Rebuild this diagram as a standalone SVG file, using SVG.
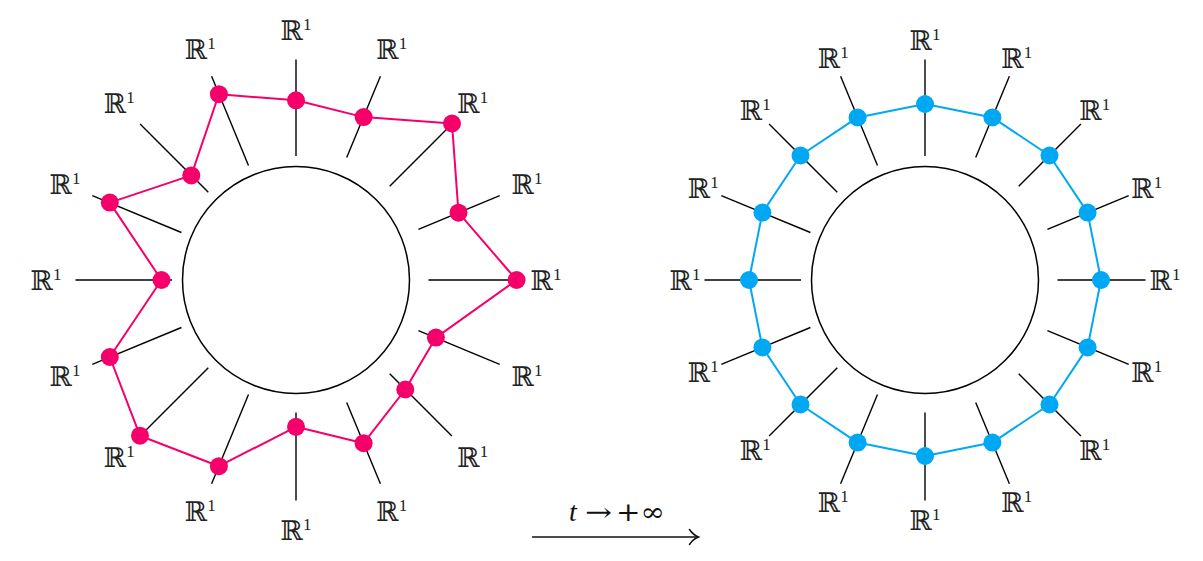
<svg xmlns="http://www.w3.org/2000/svg" width="1203" height="561" viewBox="0 0 1203 561">
<style>
.bg{fill:#ffffff}
.ring{fill:none;stroke:#000;stroke-width:1.5}
.spk{stroke:#000;stroke-width:1.4;stroke-linecap:butt}
.pk{fill:none;stroke:#F5006A;stroke-width:2;stroke-linejoin:round}
.bl{fill:none;stroke:#00A8F3;stroke-width:2;stroke-linejoin:round}
.pd{fill:#F5006A}
.bd{fill:#00A8F3}
.lbl{font-family:"DejaVu Serif",serif;font-size:27px;fill:#222;text-anchor:middle}
.sup{font-family:"Liberation Serif",serif;font-size:17px}
.ar{font-family:"DejaVu Serif",serif;font-size:26px;fill:#111}
.tt{font-family:"Liberation Serif",serif;font-style:italic;font-size:28px;fill:#111}
</style>
<rect class="bg" x="0" y="0" width="1203" height="561"/>

<g id="left-diagram">
  <circle id="left-circle" class="ring" cx="296" cy="280" r="113.5"/>
  <g id="left-spokes">
    <line class="spk" x1="428.5" y1="280" x2="516.5" y2="280"/>
    <line class="spk" x1="418.4" y1="229.3" x2="499.7" y2="195.6"/>
    <line class="spk" x1="389.7" y1="186.3" x2="451.9" y2="124.1"/>
    <line class="spk" x1="346.7" y1="157.6" x2="380.4" y2="76.3"/>
    <line class="spk" x1="296" y1="156" x2="296" y2="59.5"/>
    <line class="spk" x1="248.5" y1="165.4" x2="211.6" y2="76.3"/>
    <line class="spk" x1="208.3" y1="192.3" x2="140.1" y2="124.1"/>
    <line class="spk" x1="181.4" y1="232.5" x2="92.3" y2="195.6"/>
    <line class="spk" x1="172" y1="280" x2="75.5" y2="280"/>
    <line class="spk" x1="181.4" y1="327.5" x2="92.3" y2="364.4"/>
    <line class="spk" x1="208.3" y1="367.7" x2="140.1" y2="435.9"/>
    <line class="spk" x1="248.5" y1="394.6" x2="211.6" y2="483.7"/>
    <line class="spk" x1="296" y1="412.5" x2="296" y2="500.5"/>
    <line class="spk" x1="346.7" y1="402.4" x2="380.4" y2="483.7"/>
    <line class="spk" x1="389.7" y1="373.7" x2="451.9" y2="435.9"/>
    <line class="spk" x1="418.4" y1="330.7" x2="499.7" y2="364.4"/>
  </g>
</g>

<g id="right-diagram">
  <circle id="right-circle" class="ring" cx="925" cy="280" r="113.5"/>
  <g id="right-spokes">
    <line class="spk" x1="1057.5" y1="280" x2="1145.5" y2="280"/>
    <line class="spk" x1="1047.4" y1="229.3" x2="1128.7" y2="195.6"/>
    <line class="spk" x1="1018.7" y1="186.3" x2="1080.9" y2="124.1"/>
    <line class="spk" x1="975.7" y1="157.6" x2="1009.4" y2="76.3"/>
    <line class="spk" x1="925" y1="156" x2="925" y2="59.5"/>
    <line class="spk" x1="877.5" y1="165.4" x2="840.6" y2="76.3"/>
    <line class="spk" x1="837.3" y1="192.3" x2="769.1" y2="124.1"/>
    <line class="spk" x1="810.4" y1="232.5" x2="721.3" y2="195.6"/>
    <line class="spk" x1="801" y1="280" x2="704.5" y2="280"/>
    <line class="spk" x1="810.4" y1="327.5" x2="721.3" y2="364.4"/>
    <line class="spk" x1="837.3" y1="367.7" x2="769.1" y2="435.9"/>
    <line class="spk" x1="877.5" y1="394.6" x2="840.6" y2="483.7"/>
    <line class="spk" x1="925" y1="412.5" x2="925" y2="500.5"/>
    <line class="spk" x1="975.7" y1="402.4" x2="1009.4" y2="483.7"/>
    <line class="spk" x1="1018.7" y1="373.7" x2="1080.9" y2="435.9"/>
    <line class="spk" x1="1047.4" y1="330.7" x2="1128.7" y2="364.4"/>
  </g>
</g>

<g id="connectors">
  <polygon id="left-path" class="pk" points="516.6,280 458.5,212.7 452,123.5 363.6,117.1 296,100.3 218.9,94.2 191.3,175.4 109.8,202.6 161.5,280 109.8,357 140,435.7 218.9,466.2 296,426.8 363.6,443.2 405.3,389.5 435.9,337.6"/>
  <polygon id="right-path" class="bl" points="1101,280 1087.6,212.6 1049.5,155.5 992.4,117.4 925,104 857.6,117.4 800.5,155.5 762.4,212.6 749,280 762.4,347.4 800.5,404.5 857.6,442.6 925,456 992.4,442.6 1049.5,404.5 1087.6,347.4"/>
  <g id="limit-arrow">
    <line x1="532" y1="537" x2="697.5" y2="537" stroke="#111" stroke-width="1.6"/>
    <path d="M689.5,529.5 Q693,534.8 698.5,537 Q693,539.2 689.5,544.5" fill="none" stroke="#111" stroke-width="1.5" stroke-linecap="round"/>
  </g>
</g>

<g id="left-dots">
  <circle class="pd" cx="516.6" cy="280" r="9"/>
  <circle class="pd" cx="458.5" cy="212.7" r="9"/>
  <circle class="pd" cx="452" cy="123.5" r="9"/>
  <circle class="pd" cx="363.6" cy="117.1" r="9"/>
  <circle class="pd" cx="296" cy="100.3" r="9"/>
  <circle class="pd" cx="218.9" cy="94.2" r="9"/>
  <circle class="pd" cx="191.3" cy="175.4" r="9"/>
  <circle class="pd" cx="109.8" cy="202.6" r="9"/>
  <circle class="pd" cx="161.5" cy="280" r="9"/>
  <circle class="pd" cx="109.8" cy="357" r="9"/>
  <circle class="pd" cx="140" cy="435.7" r="9"/>
  <circle class="pd" cx="218.9" cy="466.2" r="9"/>
  <circle class="pd" cx="296" cy="426.8" r="9"/>
  <circle class="pd" cx="363.6" cy="443.2" r="9"/>
  <circle class="pd" cx="405.3" cy="389.5" r="9"/>
  <circle class="pd" cx="435.9" cy="337.6" r="9"/>
</g>

<g id="right-dots">
  <circle class="bd" cx="1101" cy="280" r="9"/>
  <circle class="bd" cx="1087.6" cy="212.6" r="9"/>
  <circle class="bd" cx="1049.5" cy="155.5" r="9"/>
  <circle class="bd" cx="992.4" cy="117.4" r="9"/>
  <circle class="bd" cx="925" cy="104" r="9"/>
  <circle class="bd" cx="857.6" cy="117.4" r="9"/>
  <circle class="bd" cx="800.5" cy="155.5" r="9"/>
  <circle class="bd" cx="762.4" cy="212.6" r="9"/>
  <circle class="bd" cx="749" cy="280" r="9"/>
  <circle class="bd" cx="762.4" cy="347.4" r="9"/>
  <circle class="bd" cx="800.5" cy="404.5" r="9"/>
  <circle class="bd" cx="857.6" cy="442.6" r="9"/>
  <circle class="bd" cx="925" cy="456" r="9"/>
  <circle class="bd" cx="992.4" cy="442.6" r="9"/>
  <circle class="bd" cx="1049.5" cy="404.5" r="9"/>
  <circle class="bd" cx="1087.6" cy="347.4" r="9"/>
</g>

<g id="left-labels">
  <text class="lbl" x="546" y="290">ℝ<tspan class="sup" dy="-10">1</tspan></text>
  <text class="lbl" x="527" y="194.3">ℝ<tspan class="sup" dy="-10">1</tspan></text>
  <text class="lbl" x="472.8" y="113.2">ℝ<tspan class="sup" dy="-10">1</tspan></text>
  <text class="lbl" x="391.7" y="59">ℝ<tspan class="sup" dy="-10">1</tspan></text>
  <text class="lbl" x="296" y="40">ℝ<tspan class="sup" dy="-10">1</tspan></text>
  <text class="lbl" x="200.3" y="59">ℝ<tspan class="sup" dy="-10">1</tspan></text>
  <text class="lbl" x="119.2" y="113.2">ℝ<tspan class="sup" dy="-10">1</tspan></text>
  <text class="lbl" x="65" y="194.3">ℝ<tspan class="sup" dy="-10">1</tspan></text>
  <text class="lbl" x="46" y="290">ℝ<tspan class="sup" dy="-10">1</tspan></text>
  <text class="lbl" x="65" y="385.7">ℝ<tspan class="sup" dy="-10">1</tspan></text>
  <text class="lbl" x="119.2" y="466.8">ℝ<tspan class="sup" dy="-10">1</tspan></text>
  <text class="lbl" x="200.3" y="521">ℝ<tspan class="sup" dy="-10">1</tspan></text>
  <text class="lbl" x="296" y="540">ℝ<tspan class="sup" dy="-10">1</tspan></text>
  <text class="lbl" x="391.7" y="521">ℝ<tspan class="sup" dy="-10">1</tspan></text>
  <text class="lbl" x="472.8" y="466.8">ℝ<tspan class="sup" dy="-10">1</tspan></text>
  <text class="lbl" x="527" y="385.7">ℝ<tspan class="sup" dy="-10">1</tspan></text>
</g>

<g id="right-labels">
  <text class="lbl" x="1165" y="290">ℝ<tspan class="sup" dy="-10">1</tspan></text>
  <text class="lbl" x="1146.7" y="198.2">ℝ<tspan class="sup" dy="-10">1</tspan></text>
  <text class="lbl" x="1094.7" y="120.3">ℝ<tspan class="sup" dy="-10">1</tspan></text>
  <text class="lbl" x="1016.8" y="68.3">ℝ<tspan class="sup" dy="-10">1</tspan></text>
  <text class="lbl" x="925" y="50">ℝ<tspan class="sup" dy="-10">1</tspan></text>
  <text class="lbl" x="833.2" y="68.3">ℝ<tspan class="sup" dy="-10">1</tspan></text>
  <text class="lbl" x="755.3" y="120.3">ℝ<tspan class="sup" dy="-10">1</tspan></text>
  <text class="lbl" x="703.3" y="198.2">ℝ<tspan class="sup" dy="-10">1</tspan></text>
  <text class="lbl" x="685" y="290">ℝ<tspan class="sup" dy="-10">1</tspan></text>
  <text class="lbl" x="703.3" y="381.8">ℝ<tspan class="sup" dy="-10">1</tspan></text>
  <text class="lbl" x="755.3" y="459.7">ℝ<tspan class="sup" dy="-10">1</tspan></text>
  <text class="lbl" x="833.2" y="511.7">ℝ<tspan class="sup" dy="-10">1</tspan></text>
  <text class="lbl" x="925" y="530">ℝ<tspan class="sup" dy="-10">1</tspan></text>
  <text class="lbl" x="1016.8" y="511.7">ℝ<tspan class="sup" dy="-10">1</tspan></text>
  <text class="lbl" x="1094.7" y="459.7">ℝ<tspan class="sup" dy="-10">1</tspan></text>
  <text class="lbl" x="1146.7" y="381.8">ℝ<tspan class="sup" dy="-10">1</tspan></text>
</g>

<g id="limit-label">
  <text class="tt" x="569" y="521">t</text>
  <text class="ar" x="585" y="521" textLength="27" lengthAdjust="spacingAndGlyphs">→</text>
  <text class="ar" x="616" y="521" textLength="49" lengthAdjust="spacingAndGlyphs">+∞</text>
</g>
</svg>
